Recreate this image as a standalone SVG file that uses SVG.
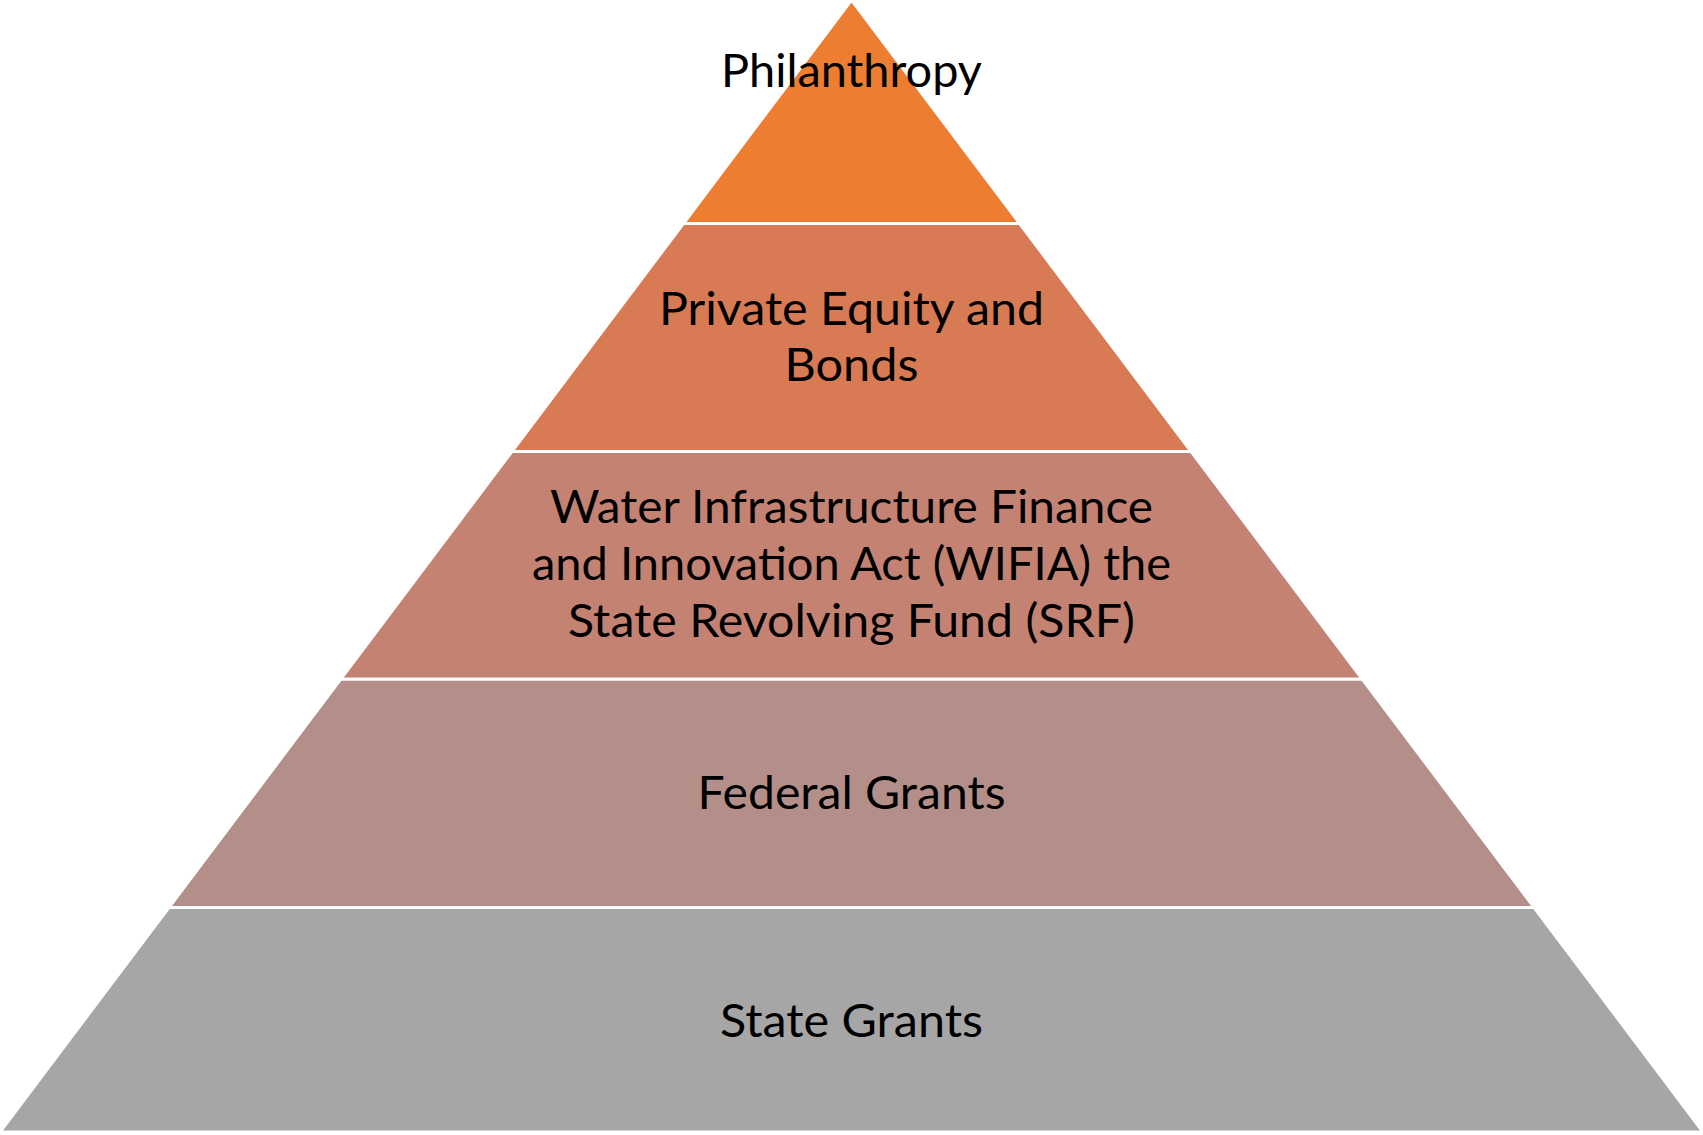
<svg xmlns="http://www.w3.org/2000/svg" width="1703" height="1135" viewBox="0 0 1703 1135">
<style>
.layer{stroke:#ffffff;stroke-width:3;stroke-linejoin:miter}
.lbl{font-family:Lato,"Open Sans","Liberation Sans",sans-serif;font-size:46px;fill:#000000;text-anchor:middle}
</style>
<rect width="1703" height="1135" fill="#ffffff"/>
<g id="layer-philanthropy">
<polygon class="layer" fill="#ED7D31" points="851.5,0 1019.6,223.5 683.4,223.5"/>
<text class="lbl" x="851.5" y="87" textLength="261" lengthAdjust="spacingAndGlyphs">Philanthropy</text>
</g>
<g id="layer-private-equity">
<polygon class="layer" fill="#D87A53" points="683.4,223.5 1019.6,223.5 1191.1,451.5 511.9,451.5"/>
<text class="lbl" x="851.5" y="325" textLength="385" lengthAdjust="spacingAndGlyphs">Private Equity and</text>
<text class="lbl" x="851.5" y="381" textLength="134" lengthAdjust="spacingAndGlyphs">Bonds</text>
</g>
<g id="layer-wifia">
<polygon class="layer" fill="#C48272" points="511.9,451.5 1191.1,451.5 1362.4,679.3 340.6,679.3"/>
<text class="lbl" x="851.5" y="523" textLength="603" lengthAdjust="spacingAndGlyphs">Water Infrastructure Finance</text>
<text class="lbl" x="851.5" y="580" textLength="639" lengthAdjust="spacingAndGlyphs">and Innovation Act (WIFIA) the</text>
<text class="lbl" x="851.5" y="637" textLength="567" lengthAdjust="spacingAndGlyphs">State Revolving Fund (SRF)</text>
</g>
<g id="layer-federal">
<polygon class="layer" fill="#B48F89" points="340.6,679.3 1362.4,679.3 1534.1,907.5 168.9,907.5"/>
<text class="lbl" x="851.5" y="809" textLength="308" lengthAdjust="spacingAndGlyphs">Federal Grants</text>
</g>
<g id="layer-state">
<polygon class="layer" fill="#A6A6A6" points="168.9,907.5 1534.1,907.5 1703,1132 0,1132"/>
<text class="lbl" x="851.5" y="1037" textLength="263" lengthAdjust="spacingAndGlyphs">State Grants</text>
</g>
<g id="connectors"></g>
</svg>
